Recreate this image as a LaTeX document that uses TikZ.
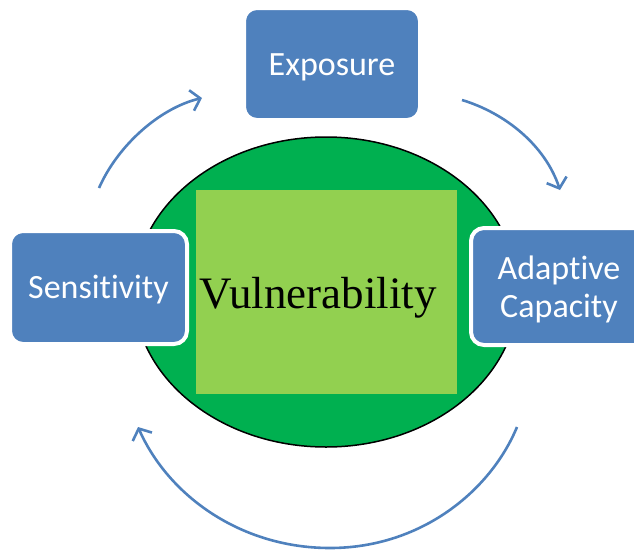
\documentclass[tikz,border=0pt]{standalone}
\usepackage{fontspec}
\setmainfont{Carlito}[Ligatures=NoCommon]
\newfontfamily\vulnfont{Liberation Serif}
\usetikzlibrary{arrows.meta,shapes.geometric}
\definecolor{boxblue}{HTML}{4F81BD}
\definecolor{darkgreen}{HTML}{00B050}
\definecolor{lightgreen}{HTML}{92D050}
\tikzset{
  bluebox/.style={rectangle, rounded corners=13pt, fill=boxblue, draw=white, line width=4pt,
    minimum width=176pt, minimum height=112pt, inner sep=0pt},
  boxtext/.style={text=white, align=center, inner sep=0pt,
    font=\fontsize{34}{38}\selectfont},
  cyclearrow/.style={draw=boxblue, line width=2.6pt, -{Straight Barb[length=9pt,width=21pt,line width=2.6pt]}},
}
\begin{document}
\begin{tikzpicture}[x=1pt,y=-1pt]
\useasboundingbox (0,0) rectangle (634,549);
\clip (0,0) rectangle (634,549);
\node (ell) [ellipse, draw=black, line width=1.5pt, fill=darkgreen, minimum width=384pt, minimum height=310pt, inner sep=0pt] at (326,292) {};
\node (core) [rectangle, fill=lightgreen, minimum width=261pt, minimum height=204pt, inner sep=0pt] at (326.5,292) {};
\node (vul) at (318,298) {\vulnfont\fontsize{45}{50}\selectfont Vulnerability};
\node (exp) [bluebox] at (332,64) {};
\node (sen) [bluebox, minimum width=177pt, minimum height=113pt] at (98.5,287.5) {};
\node (ada) [bluebox, minimum height=117pt] at (559,286.5) {};
\node (expt) [boxtext] at ([yshift=-3pt]exp.center) {Exposure};
\node (sent) [boxtext] at ([yshift=-2pt]sen.center) {Sensitivity};
\node (adat) [boxtext] at ([yshift=-3pt]ada.center) {Adaptive\\Capacity};
\coordinate (a1s) at (99,188);
\coordinate (a1e) at (202,98);
\coordinate (a2s) at (462,100);
\coordinate (a2e) at (560,190);
\coordinate (a3s) at (517,427);
\coordinate (a3m) at (330,548);
\coordinate (a3e) at (138,427);
\draw[cyclearrow] (a1s) .. controls (118,145) and (160,108) .. (a1e);
\draw[cyclearrow] (a2s) .. controls (505,113) and (545,145) .. (a2e);
\draw[cyclearrow] (a3s) .. controls (490,492) and (420,548) .. (a3m) .. controls (240,548) and (168,495) .. (a3e);
\end{tikzpicture}
\end{document}
